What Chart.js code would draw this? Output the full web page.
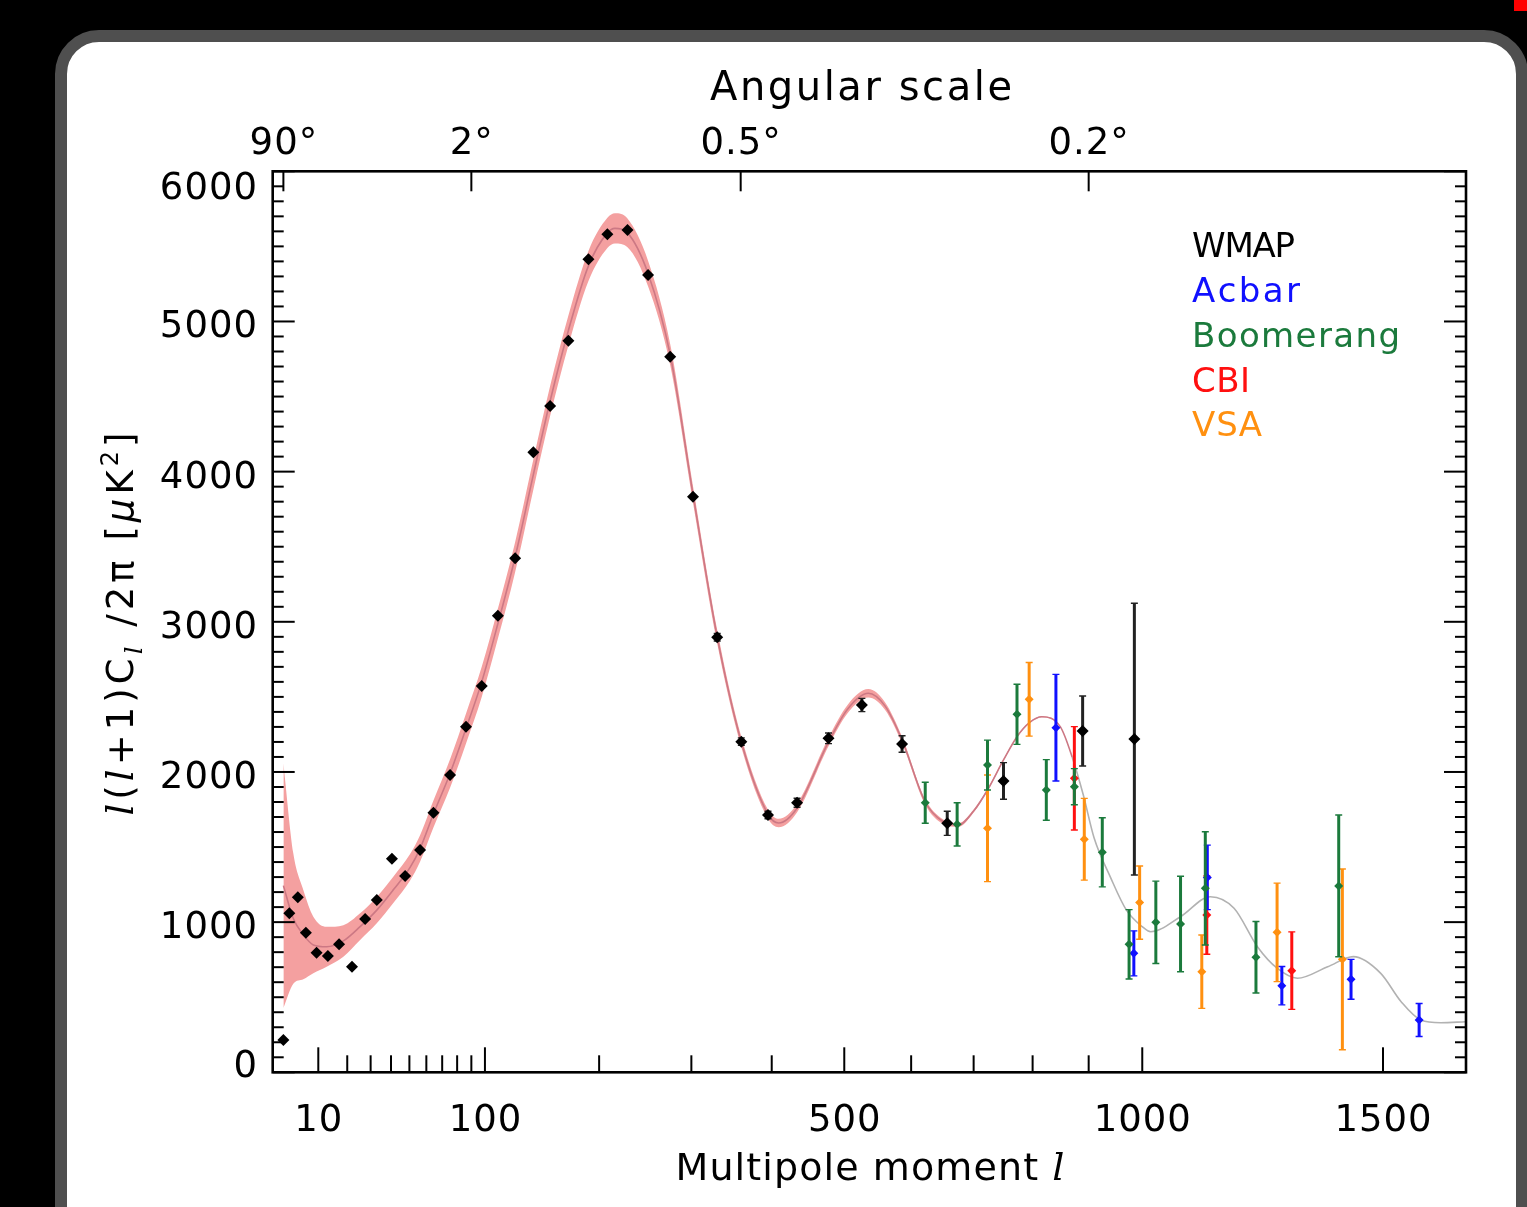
<!DOCTYPE html>
<html><head><meta charset="utf-8">
<script src="https://cdn.jsdelivr.net/npm/chart.js@4.4.1/dist/chart.umd.min.js"></script>
<style>
html,body{margin:0;padding:0;background:#000;width:1527px;height:1207px;overflow:hidden;}
#panel{position:absolute;left:55px;top:30px;width:1449px;height:1240px;background:#fff;border:12px solid #4f4f4f;border-radius:44px;}
#mark{position:absolute;left:1514px;top:0;width:13px;height:11px;background:#f00;}
#wrap{position:absolute;left:0;top:0;width:1527px;height:1207px;}
</style></head><body>
<div id="panel"></div><div id="mark"></div>
<div id="wrap"><canvas id="c" width="1527" height="1207"></canvas></div>
<script>
// ---- axis transform (multipole axis drawn on an l^P scale) ----
const P = 0.596;
const pw = l => Math.pow(l, P);
const L_MIN = 0.64, L_MAX = 1691;
const Y_MIN = 0, Y_MAX = 6000, Y_MAJOR = 1000, Y_MINOR = 100;

// ---- tick labels ----
const xMajorTicks = [10, 100, 500, 1000, 1500];
const xMinorTicks = [20, 30, 40, 50, 60, 70, 80, 90, 200, 300, 400, 600, 700, 800, 900];
const angTicksDeg = [90, 2, 0.5, 0.2];
const angTickLabels = ['90°', '2°', '0.5°', '0.2°'];
const yTicks = [0, 1000, 2000, 3000, 4000, 5000, 6000];

// ---- model curve ----
const modelL = [2,3.76,5.97,8.57,12.6,18.5,25.3,32.9,41.2,50.4,56.2,64.4,75.2,86.2,97.6,110,123.7,139,153.7,170.4,189.5,208.3,216,229,251,275.6,301.9,330.9,360.8,395,409,434,477.5,505,535,560,586,622,650,675,700,723,750,773,795,816,849,870,890,910,940,970,1000,1016,1074,1133,1181,1229,1270,1313,1378,1434,1495,1541,1586,1632,1690];
const modelV = [1243,1024,917,848,836,875,970,1080,1215,1365,1490,1720,1990,2290,2600,2990,3430,3980,4470,4940,5370,5590,5620,5590,5320,4780,3850,2900,2200,1720,1660,1760,2200,2420,2524,2440,2213,1800,1670,1647,1740,1880,2080,2235,2330,2368,2300,2100,1850,1560,1300,1080,970,936,1036,1169,1092,836,693,626,703,770,659,470,348,330,337];
const bandE  = [815,434,297,188,133,105,89,88,88,88,88,90,95,100,100,100,100,100,100,100,100,100,100,95,85,70,55,45,35,30,28,28,28,28,28,25,22,18,15,12,10,8,6,5,4,3,2,1,0,0,0,0,0,0,0,0,0,0,0,0,0,0,0,0,0,0,0];

// ---- data ----
const wmapL = [2,3,4.7,6.6,9.5,13,16.9,21.9,27.5,32.9,40.5,47.6,56.2,64.4,75.2,86.2,97.6,109.9,123.7,139,153.7,170.4,189.5,208.3,229,251,275.6,301.9,330.9,360.8,395.1,433.9,477.5,525.6,586,657,750,889,985];
const wmapV = [215,1059,1165,930,796,774,852,703,1021,1147,1422,1307,1480,1729,1980,2301,2572,3041,3423,4129,4437,4872,5414,5580,5609,5309,4765,3833,2897,2202,1713,1795,2224,2446,2186,1658,1940,2273,2219];
const wmapE = [0,0,0,0,0,0,0,0,0,0,0,0,0,0,0,0,0,0,0,0,0,0,0,0,0,0,0,0,25,25,25,30,35,44,55,80,122,233,905];

const acbarL = [841,984,1127,1280,1429,1582];
const acbarV = [2295,792,1298,577,619,348];
const acbarE = [355,150,215,128,133,110];

const boomL = [622,673,723,773,824,874,925,975,1026,1074,1123,1226,1402];
const boomV = [1795,1651,2046,2384,1880,1902,1465,852,999,988,1225,766,1241];
const boomE = [137,144,166,200,202,120,230,231,274,318,377,238,472];

const cbiL = [874,1126,1301];
const cbiV = [1958,1047,677];
const cbiE = [344,261,258];

const vsaL = [723,794,892,995,1116,1270,1410];
const vsaV = [1625,2484,1552,1130,670,932,752];
const vsaE = [355,245,272,244,244,328,602];

const legendNames = ['WMAP', 'Acbar', 'Boomerang', 'CBI', 'VSA'];
const COLORS = {WMAP:'#000000', Acbar:'#1010ff', Boomerang:'#1b7a3c', CBI:'#ff1010', VSA:'#ff9010'};
const BAND = 'rgb(244,160,160)', PINK = 'rgb(204,120,132)', GRAY = 'rgb(178,178,178)';

const toPts = (L, V) => L.map((l, i) => ({x: pw(l), y: V[i]}));
const bandIdx = modelL.map((l, i) => i).filter(i => modelL[i] <= 910);
const bandUpper = bandIdx.map(i => ({x: pw(modelL[i]), y: modelV[i] + bandE[i]}));
const bandLower = bandIdx.map(i => ({x: pw(modelL[i]), y: modelV[i] - bandE[i]}));

function scatterDs(name, L, V, E, r, barColor) {
  return {type:'scatter', label:name, data: toPts(L, V), errors: E, barColor: barColor || COLORS[name],
    pointStyle:'rectRot', pointRadius:r, pointHoverRadius:r, backgroundColor:COLORS[name], borderColor:COLORS[name], borderWidth:0, order:1};
}

// ---- text helpers ----
const SANS = '"DejaVu Sans"', SERIF = '"DejaVu Serif"';
function richWidth(ctx, pieces) {
  let w = 0, n = 0;
  pieces.forEach(p => { ctx.font = p.font; for (const ch of p.t) { w += ctx.measureText(ch).width; n++; } });
  return {w, n};
}
function drawRich(ctx, pieces, cx, by, targetW, sp) {
  const {w, n} = richWidth(ctx, pieces);
  if (targetW) sp = (targetW - w) / (n - 1);
  sp = sp || 0;
  const total = w + sp * (n - 1);
  let x = cx - total / 2;
  pieces.forEach(p => {
    ctx.font = p.font;
    for (const ch of p.t) { ctx.fillText(ch, x, by + (p.dy || 0)); x += ctx.measureText(ch).width + sp; }
  });
}
function drawLeft(ctx, pieces, lx, by, targetW) {
  const {w, n} = richWidth(ctx, pieces);
  const sp = targetW ? (targetW - w) / (n - 1) : 0;
  let x = lx;
  pieces.forEach(p => { ctx.font = p.font; for (const ch of p.t) { ctx.fillText(ch, x, by); x += ctx.measureText(ch).width + sp; } });
}
function drawRight(ctx, text, font, rx, by, sp) {
  ctx.font = font;
  const {w, n} = richWidth(ctx, [{t:text, font}]);
  let x = rx - (w + sp * (n - 1));
  for (const ch of text) { ctx.fillText(ch, x, by); x += ctx.measureText(ch).width + sp; }
}

const errorBars = {
  id: 'errorBars',
  beforeDatasetDraw(chart, args) {
    const ds = chart.data.datasets[args.index];
    if (!ds.errors) return;
    const ctx = chart.ctx, ys = chart.scales.y;
    ctx.save();
    ctx.strokeStyle = ds.barColor;
    args.meta.data.forEach((pt, i) => {
      const e = ds.errors[i]; if (!e) return;
      const v = ds.data[i].y;
      const y1 = ys.getPixelForValue(v + e), y2 = ys.getPixelForValue(v - e), x = pt.x;
      ctx.lineWidth = 3; ctx.beginPath(); ctx.moveTo(x, y1); ctx.lineTo(x, y2); ctx.stroke();
      ctx.lineWidth = 1.4; ctx.beginPath();
      ctx.moveTo(x - 3.5, y1); ctx.lineTo(x + 3.5, y1); ctx.moveTo(x - 3.5, y2); ctx.lineTo(x + 3.5, y2); ctx.stroke();
    });
    ctx.restore();
  }
};

const frame = {
  id: 'frame',
  afterDraw(chart) {
    const {ctx, chartArea: a, scales: {x, y}} = chart;
    ctx.save();
    ctx.strokeStyle = '#000'; ctx.fillStyle = '#000';
    const seg = (x1, y1, x2, y2) => { ctx.beginPath(); ctx.moveTo(x1, y1); ctx.lineTo(x2, y2); ctx.stroke(); };
    ctx.lineWidth = 2;
    for (let v = Y_MIN; v <= Y_MAX; v += Y_MINOR) {
      const py = y.getPixelForValue(v), len = v % Y_MAJOR === 0 ? 22 : 11;
      seg(a.left, py, a.left + len, py); seg(a.right, py, a.right - len, py);
    }
    xMajorTicks.forEach(l => { const px = x.getPixelForValue(pw(l)); seg(px, a.bottom, px, a.bottom - 25); });
    xMinorTicks.forEach(l => { const px = x.getPixelForValue(pw(l)); seg(px, a.bottom, px, a.bottom - 17); });
    angTicksDeg.forEach(d => { const px = x.getPixelForValue(pw(180 / d)); seg(px, a.top, px, a.top + 20); });
    ctx.lineWidth = 2.6;
    ctx.strokeRect(a.left, a.top, a.right - a.left, a.bottom - a.top);

    // tick labels
    ctx.textBaseline = 'alphabetic';
    const TF = '37px ' + SANS;
    yTicks.forEach(v => {
      let by = y.getPixelForValue(v) + 16;
      if (v === Y_MAX) by += 12; if (v === Y_MIN) by -= 11;
      drawRight(ctx, String(v), TF, 257, by, 1);
    });
    xMajorTicks.forEach(l => drawRich(ctx, [{t:String(l), font:TF}], x.getPixelForValue(pw(l)), 1131, 0, 1));
    angTicksDeg.forEach((d, i) => drawRich(ctx, [{t:angTickLabels[i], font:TF}], x.getPixelForValue(pw(180 / d)), 154, 0, 1));

    // titles
    drawRich(ctx, [{t:'Angular scale', font:'40px ' + SANS}], 861, 100, 302);
    drawRich(ctx, [{t:'Multipole moment ', font:'38px ' + SANS}, {t:'l', font:'italic 38px ' + SERIF}], 870, 1180, 389);
    ctx.save();
    ctx.translate(133, 624); ctx.rotate(-Math.PI / 2);
    const F = '37px ' + SANS, FI = 'italic 37px ' + SERIF, FS = '24px ' + SANS, FSI = 'italic 24px ' + SERIF;
    drawRich(ctx, [
      {t:'l', font:FI}, {t:'(', font:F}, {t:'l', font:FI}, {t:'+1)C', font:F},
      {t:'l', font:FSI, dy:9}, {t:' /2π [', font:F}, {t:'μ', font:'italic 37px ' + SANS},
      {t:'K', font:F}, {t:'2', font:FS, dy:-15}, {t:']', font:F}
    ], 0, 0, 383);
    ctx.restore();

    // legend
    const legBase = [257, 302, 347, 392, 436];
    const legW = [103, 108, 208, 58, 70];
    legendNames.forEach((n, i) => {
      ctx.fillStyle = COLORS[n];
      drawLeft(ctx, [{t:n, font:'34px ' + SANS}], 1192, legBase[i], legW[i]);
    });
    ctx.restore();
  }
};

new Chart(document.getElementById('c'), {
  data: {
    datasets: [
      {type:'line', label:'bandU', data:bandUpper, borderWidth:0, borderColor:'rgba(0,0,0,0)', pointRadius:0, fill:'+1', backgroundColor:BAND, cubicInterpolationMode:'monotone', order:30},
      {type:'line', label:'bandL', data:bandLower, borderWidth:0, borderColor:'rgba(0,0,0,0)', pointRadius:0, fill:false, cubicInterpolationMode:'monotone', order:31},
      {type:'line', label:'model', data:toPts(modelL, modelV), borderColor:PINK, borderWidth:1.6, pointRadius:0, fill:false, cubicInterpolationMode:'monotone', order:20,
        segment:{borderColor: c => (c.p0.parsed.x >= pw(860) ? GRAY : PINK)}},
      scatterDs('Boomerang', boomL, boomV, boomE, 4.5),
      scatterDs('VSA', vsaL, vsaV, vsaE, 4.5),
      scatterDs('Acbar', acbarL, acbarV, acbarE, 4.5),
      scatterDs('CBI', cbiL, cbiV, cbiE, 4.5),
      scatterDs('WMAP', wmapL, wmapV, wmapE, 6, '#222')
    ]
  },
  options: {
    responsive: false, animation: false, devicePixelRatio: 1,
    layout: {padding: {left: 272.7, top: 171.3, right: 61, bottom: 134.7}},
    scales: {
      x: {type:'linear', min: pw(L_MIN), max: pw(L_MAX), display: false},
      y: {type:'linear', min: Y_MIN, max: Y_MAX, display: false}
    },
    plugins: {legend: {display: false}, tooltip: {enabled: false}}
  },
  plugins: [errorBars, frame]
});
</script></body></html>
